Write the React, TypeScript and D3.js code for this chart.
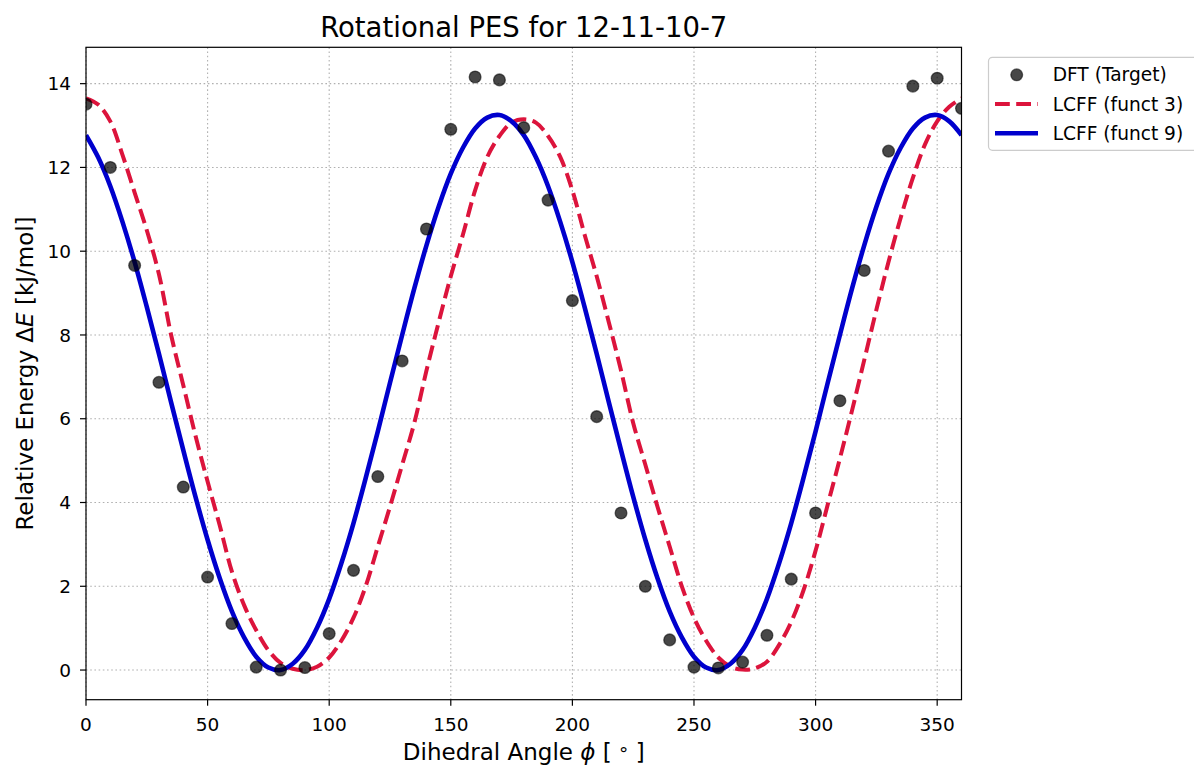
import React from "react";
import * as d3 from "d3";

// ---- data ----
const dftAngles = [0, 10, 20, 30, 40, 50, 60, 70, 80, 90, 100, 110, 120, 130, 140, 150, 160, 170, 180, 190, 200, 210, 220, 230, 240, 250, 260, 270, 280, 290, 300, 310, 320, 330, 340, 350, 360];
const dftEnergy = [13.51, 12.0, 9.66, 6.87, 4.37, 2.22, 1.11, 0.07, 0.0, 0.06, 0.87, 2.38, 4.62, 7.38, 10.53, 12.91, 14.16, 14.09, 12.95, 11.22, 8.82, 6.05, 3.75, 2.0, 0.72, 0.07, 0.05, 0.19, 0.83, 2.17, 3.75, 6.43, 9.54, 12.39, 13.94, 14.13, 13.41];

const curveAngles = [0, 5, 10, 15, 20, 25, 30, 35, 40, 45, 50, 55, 60, 65, 70, 75, 80, 85, 90, 95, 100, 105, 110, 115, 120, 125, 130, 135, 140, 145, 150, 155, 160, 165, 170, 175, 180, 185, 190, 195, 200, 205, 210, 215, 220, 225, 230, 235, 240, 245, 250, 255, 260, 265, 270, 275, 280, 285, 290, 295, 300, 305, 310, 315, 320, 325, 330, 335, 340, 345, 350, 355, 360];
const funct3 = [13.65, 13.5, 13.1, 12.3, 11.4, 10.5, 9.45, 8.0, 6.8, 5.6, 4.5, 3.45, 2.35, 1.55, 0.95, 0.47, 0.17, 0.03, 0.0, 0.08, 0.3, 0.7, 1.25, 2.0, 2.95, 3.9, 4.9, 5.9, 7.15, 8.3, 9.4, 10.4, 11.45, 12.25, 12.75, 13.07, 13.15, 13.07, 12.75, 12.25, 11.45, 10.4, 9.4, 8.3, 7.15, 5.9, 4.9, 3.9, 2.95, 2.0, 1.25, 0.7, 0.3, 0.08, 0.01, 0.04, 0.2, 0.6, 1.15, 1.9, 2.85, 3.95, 5.05, 6.2, 7.4, 8.6, 9.75, 10.8, 11.75, 12.55, 13.1, 13.45, 13.65];
const funct9 = [12.77, 12.24, 11.55, 10.7, 9.74, 8.67, 7.55, 6.39, 5.25, 4.14, 3.11, 2.19, 1.4, 0.78, 0.32, 0.06, 0.0, 0.15, 0.48, 1.01, 1.7, 2.55, 3.51, 4.58, 5.7, 6.86, 8.0, 9.11, 10.14, 11.06, 11.85, 12.47, 12.93, 13.19, 13.25, 13.1, 12.77, 12.24, 11.55, 10.7, 9.74, 8.67, 7.55, 6.39, 5.25, 4.14, 3.11, 2.19, 1.4, 0.78, 0.32, 0.06, 0.0, 0.15, 0.48, 1.01, 1.7, 2.55, 3.51, 4.58, 5.7, 6.86, 8.0, 9.11, 10.14, 11.06, 11.85, 12.47, 12.93, 13.19, 13.25, 13.1, 12.77];

const xTicks = [0, 50, 100, 150, 200, 250, 300, 350];
const yTicks = [0, 2, 4, 6, 8, 10, 12, 14];
const legendLabels = ["DFT (Target)", "LCFF (funct 3)", "LCFF (funct 9)"];
const titleText = "Rotational PES for 12-11-10-7";

const W = 1194;
const H = 767;
const L = 86, R = 961.5, T = 47.3, B = 699.7;
const FONT = "'DejaVu Sans', sans-serif";

export default function App() {
  const x = d3.scaleLinear().domain([0, 360]).range([L, R]);
  const y = d3.scaleLinear().domain([-0.708, 14.868]).range([B, T]);

  const line = d3
    .line<[number, number]>()
    .x((d) => x(d[0]))
    .y((d) => y(d[1]))
    .curve(d3.curveCatmullRom.alpha(0.5));

  const redPath = line(curveAngles.map((a, i) => [a, funct3[i]] as [number, number])) || "";
  const bluePath = line(curveAngles.map((a, i) => [a, funct9[i]] as [number, number])) || "";

  const red = "#DC143C";
  const blue = "#0000CD";

  const legX = 988.5, legY = 57.3;
  const rowY = [74.8, 104, 133.2];

  return (
    <div style={{ position: "absolute", left: 0, top: 0, width: W, height: H, overflow: "hidden", background: "#fff" }}>
      <svg width={W} height={H} style={{ display: "block" }} fontFamily={FONT}>
        <defs>
          <clipPath id="plotClip">
            <rect x={L} y={T} width={R - L} height={B - T} />
          </clipPath>
        </defs>
        <rect x={0} y={0} width={W} height={H} fill="#fff" />

        {/* grid */}
        <g stroke="#b0b0b0" strokeWidth={1.1} strokeDasharray="1.6,2.6">
          {xTicks.map((t) => (
            <line key={"gx" + t} x1={x(t)} x2={x(t)} y1={T} y2={B} />
          ))}
          {yTicks.map((t) => (
            <line key={"gy" + t} x1={L} x2={R} y1={y(t)} y2={y(t)} />
          ))}
        </g>

        {/* curves */}
        <g clipPath="url(#plotClip)">
          <path d={redPath} fill="none" stroke={red} strokeWidth={4} strokeDasharray="14.8,6.4" />
          <path d={bluePath} fill="none" stroke={blue} strokeWidth={4.6} />
          {dftAngles.map((a, i) => (
            <circle
              key={"p" + a}
              cx={x(a)}
              cy={y(dftEnergy[i])}
              r={5.9}
              fill="#000"
              fillOpacity={0.72}
              stroke="#000"
              strokeOpacity={0.55}
              strokeWidth={1.3}
            />
          ))}
        </g>

        {/* frame */}
        <rect x={L} y={T} width={R - L} height={B - T} fill="none" stroke="#000" strokeWidth={1.2} />

        {/* x ticks */}
        {xTicks.map((t) => (
          <g key={"xt" + t}>
            <line x1={x(t)} x2={x(t)} y1={B} y2={B + 6} stroke="#000" strokeWidth={1.2} />
            <text x={x(t)} y={730.5} textAnchor="middle" fontSize={18.5} fill="#000">
              {t}
            </text>
          </g>
        ))}
        {/* y ticks */}
        {yTicks.map((t) => (
          <g key={"yt" + t}>
            <line x1={L - 6} x2={L} y1={y(t)} y2={y(t)} stroke="#000" strokeWidth={1.2} />
            <text x={71} y={y(t)} dy="0.36em" textAnchor="end" fontSize={18.5} fill="#000">
              {t}
            </text>
          </g>
        ))}

        {/* title */}
        <text x={(L + R) / 2} y={37} textAnchor="middle" fontSize={27.5} fill="#000">
          {titleText}
        </text>

        {/* x label */}
        <text x={(L + R) / 2} y={759.5} textAnchor="middle" fontSize={23} fill="#000">
          Dihedral Angle <tspan fontStyle="italic">ϕ</tspan> [ <tspan fontSize={18.5}>°</tspan> ]
        </text>

        {/* y label */}
        <text
          transform={`translate(33, ${(T + B) / 2}) rotate(-90)`}
          textAnchor="middle"
          fontSize={23}
          fill="#000"
        >
          Relative Energy Δ<tspan fontStyle="italic">E</tspan> [kJ/mol]
        </text>

        {/* legend */}
        <rect x={legX} y={legY} width={230} height={93} rx={4} fill="#fff" fillOpacity={0.8} stroke="#cccccc" strokeWidth={1.2} />
        <circle cx={1016.7} cy={rowY[0]} r={5.9} fill="#000" fillOpacity={0.72} stroke="#000" strokeOpacity={0.55} strokeWidth={1.3} />
        <line x1={995} x2={1038} y1={rowY[1]} y2={rowY[1]} stroke={red} strokeWidth={4} strokeDasharray="14.8,6.4" />
        <line x1={995} x2={1038} y1={rowY[2]} y2={rowY[2]} stroke={blue} strokeWidth={4.6} />
        {legendLabels.map((lab, i) => (
          <text key={lab} x={1052.7} y={rowY[i]} dy="0.36em" fontSize={18.6} fill="#000">
            {lab}
          </text>
        ))}
      </svg>
    </div>
  );
}
